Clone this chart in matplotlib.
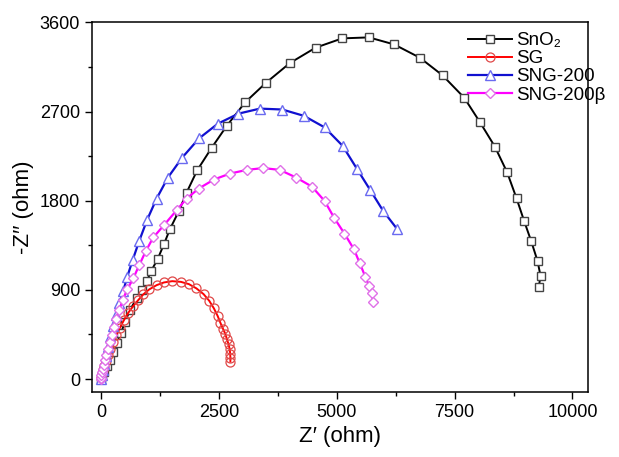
import matplotlib
matplotlib.use("Agg")
import matplotlib.pyplot as plt
from matplotlib.ticker import MultipleLocator

plt.rcParams['font.family'] = ['Liberation Sans', 'DejaVu Sans']

# SnO2
sno2_x = [0, 21, 64, 127, 191, 254, 339, 424, 509, 615, 757, 869, 969, 1066,
          1202, 1336, 1463, 1654, 1817, 2042, 2347, 2671, 3057, 3498, 4007,
          4552, 5116, 5682, 6218, 6763, 7244, 7702, 8035, 8353, 8614, 8813,
          8974, 9122, 9258, 9322, 9286]
sno2_y = [0, 30, 71, 131, 192, 272, 363, 464, 575, 696, 814, 897, 985, 1092,
          1210, 1361, 1513, 1697, 1883, 2108, 2334, 2558, 2793, 2990, 3190,
          3345, 3439, 3449, 3378, 3244, 3066, 2841, 2595, 2347, 2087, 1825,
          1596, 1395, 1193, 1042, 931]

# SG
sg_x = [0, 21, 42, 74, 106, 148, 201, 265, 329, 403, 488, 579, 685, 791, 897,
        1024, 1181, 1336, 1512, 1696, 1866, 2025, 2177, 2296, 2396, 2474,
        2533, 2586, 2635, 2671, 2707, 2731, 2741, 2745, 2745]
sg_y = [10, 50, 91, 136, 187, 242, 303, 373, 444, 519, 595, 669, 736, 797,
        854, 905, 948, 975, 988, 981, 958, 915, 857, 790, 713, 638, 568, 509,
        459, 403, 350, 300, 257, 217, 176]

# SNG-200
sng_x = [0, 21, 42, 64, 106, 148, 201, 254, 318, 392, 473, 558, 672, 812, 982,
         1181, 1420, 1724, 2082, 2480, 2915, 3371, 3844, 4304, 4742, 5124,
         5434, 5713, 5985, 6275]
sng_y = [0, 40, 91, 151, 232, 323, 424, 534, 645, 766, 890, 1032, 1200, 1395,
         1610, 1822, 2034, 2236, 2430, 2578, 2679, 2730, 2721, 2657, 2541,
         2355, 2118, 1906, 1697, 1518]

# SNG-200beta
sngb_x = [0, 0, 11, 21, 42, 64, 85, 117, 148, 191, 233, 276, 318, 388, 460,
          558, 685, 812, 954, 1109, 1336, 1618, 1817, 2074, 2396, 2735, 3089,
          3441, 3795, 4140, 4473, 4743, 4950, 5163, 5364, 5491, 5607, 5688,
          5739, 5777]
sngb_y = [0, 15, 40, 71, 106, 146, 192, 242, 303, 373, 444, 521, 602, 696,
          797, 905, 1015, 1150, 1294, 1429, 1553, 1711, 1822, 1923, 2014,
          2074, 2111, 2130, 2111, 2034, 1943, 1798, 1624, 1469, 1311, 1167,
          1032, 938, 864, 782]

fig = plt.figure(figsize=(6.19, 4.57), dpi=100)
ax = fig.add_axes([0.1486, 0.1422, 0.8014, 0.8098])

ax.plot(sno2_x, sno2_y, color='black', lw=1.4, marker='s', ms=5.5,
        mfc='white', mec='#444444', mew=1.0, label='SnO₂')
ax.plot(sg_x, sg_y, color='red', lw=1.4, marker='o', ms=6.5,
        mfc='none', mec='#e04848', mew=0.9, label='SG')
ax.plot(sng_x, sng_y, color='#1010d0', lw=1.6, marker='^', ms=6.5,
        mfc='white', mec='#6a6af0', mew=1.0, label='SNG-200')
ax.plot(sngb_x, sngb_y, color='#ff00ff', lw=1.6, marker='D', ms=5.5,
        mfc='white', mec='#e070e8', mew=1.0, label='SNG-200β')

ax.set_xlim(-190, 10330)
ax.set_ylim(-131, 3605)
ax.xaxis.set_major_locator(MultipleLocator(2500))
ax.xaxis.set_minor_locator(MultipleLocator(1250))
ax.yaxis.set_major_locator(MultipleLocator(900))
ax.yaxis.set_minor_locator(MultipleLocator(450))
ax.tick_params(which='major', direction='out', length=5, width=1, labelsize=13)
ax.tick_params(which='minor', direction='out', length=3, width=1)
for s in ax.spines.values():
    s.set_linewidth(1.1)

ax.set_xlabel("Z′ (ohm)", fontsize=16)
ax.set_ylabel("-Z′′ (ohm)", fontsize=16)

ax.legend(loc='upper left', bbox_to_anchor=(0.738, 1.0), frameon=False,
          fontsize=13.5, handlelength=2.3, handletextpad=0.25,
          labelspacing=0.05, borderaxespad=0.15)

fig.savefig("out.png", dpi=100)
